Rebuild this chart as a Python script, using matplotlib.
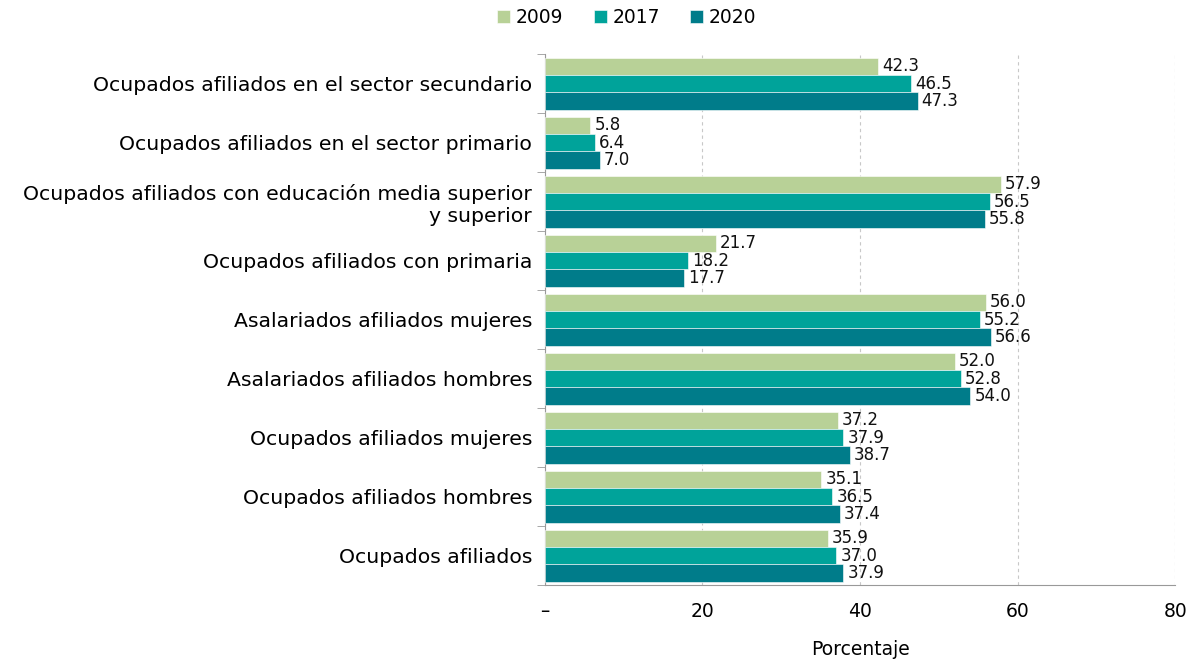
import numpy as np
import matplotlib
matplotlib.use("Agg")
import matplotlib.pyplot as plt

# categories listed bottom -> top as in the chart
categories = [
    "Ocupados afiliados",
    "Ocupados afiliados hombres",
    "Ocupados afiliados mujeres",
    "Asalariados afiliados hombres",
    "Asalariados afiliados mujeres",
    "Ocupados afiliados con primaria",
    "Ocupados afiliados con educación media superior\ny superior",
    "Ocupados afiliados en el sector primario",
    "Ocupados afiliados en el sector secundario",
]
v2009 = [35.9, 35.1, 37.2, 52.0, 56.0, 21.7, 57.9, 5.8, 42.3]
v2017 = [37.0, 36.5, 37.9, 52.8, 55.2, 18.2, 56.5, 6.4, 46.5]
v2020 = [37.9, 37.4, 38.7, 54.0, 56.6, 17.7, 55.8, 7.0, 47.3]
series = ["2009", "2017", "2020"]
colors = ["#b8d197", "#00a39a", "#007c8a"]

plt.rcParams["font.family"] = ["DejaVu Sans"]

fig, ax = plt.subplots(figsize=(11.97, 6.62), dpi=100)
fig.subplots_adjust(left=0.455, right=0.982, top=0.918, bottom=0.116)

y = np.arange(len(categories))
h = 0.295
offsets = [h, 0, -h]
for vals, off, col, name in zip([v2009, v2017, v2020], offsets, colors, series):
    bars = ax.barh(y + off, vals, height=h, color=col, label=name, zorder=3,
                   edgecolor="white", linewidth=0.4)
    for b, v in zip(bars, vals):
        ax.text(v + 0.5, b.get_y() + b.get_height() / 2, f"{v:.1f}",
                va="center", ha="left", fontsize=12, color="#111111", zorder=4)

ax.set_xlim(0, 80)
ax.set_ylim(-0.5, len(categories) - 0.5)
ax.set_xticks([0, 20, 40, 60, 80])
ax.set_xticklabels(["–", "20", "40", "60", "80"], fontsize=13.5)
ax.set_yticks(y)
ax.set_yticklabels(categories, fontsize=14.7, linespacing=1.2)
ax.set_yticks(np.arange(-0.5, len(categories), 1), minor=True)
ax.tick_params(axis="y", which="major", length=0, pad=9)
ax.tick_params(axis="y", which="minor", length=6, color="#999999", direction="out")
ax.tick_params(axis="x", length=0, pad=12)
for lab in ax.get_yticklabels():
    lab.set_multialignment("right")

ax.grid(axis="x", linestyle=(0, (3, 3)), color="#c8c8c8", linewidth=0.8, zorder=0)
for s in ["top", "right"]:
    ax.spines[s].set_visible(False)
ax.spines["left"].set_color("#999999")
ax.spines["bottom"].set_color("#999999")

ax.set_xlabel("Porcentaje", fontsize=13.5, labelpad=14)

ax.legend(loc="lower center", bbox_to_anchor=(0.13, 1.03), ncol=3,
          frameon=False, fontsize=13.5, handlelength=0.7, handleheight=0.7,
          handletextpad=0.3, columnspacing=1.6, borderaxespad=0.2)

fig.savefig("out.png", dpi=100)
